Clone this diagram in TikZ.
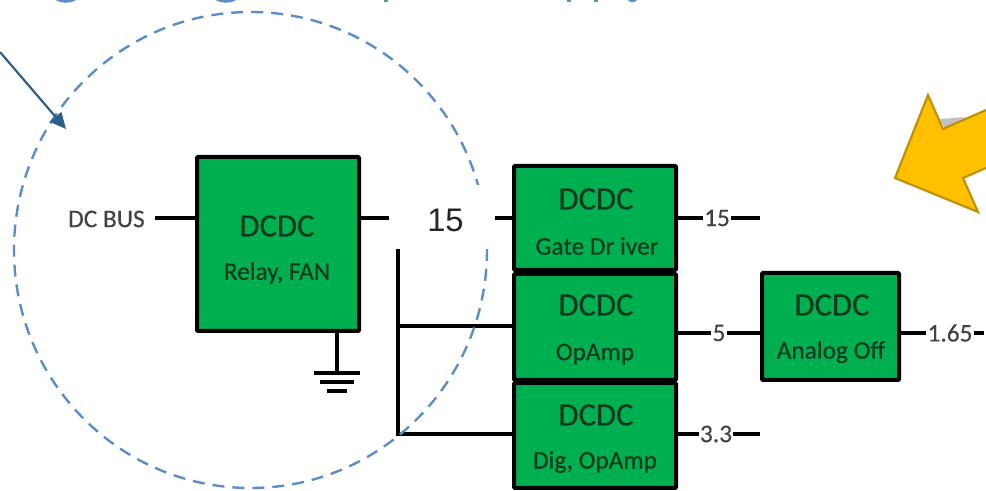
\documentclass[tikz,border=0pt]{standalone}
\usepackage{fontspec}
\setmainfont{Carlito}
\newfontfamily\blockfont[FakeBold=0.35]{Carlito}
\newfontfamily\maskfont{Liberation Sans}
\usetikzlibrary{arrows.meta,shapes.geometric}
\definecolor{dcgreen}{RGB}{0,176,80}
\definecolor{dcink}{RGB}{10,58,30}
\definecolor{lblink}{RGB}{64,66,72}
\definecolor{ringblue}{RGB}{91,141,204}
\definecolor{pointerblue}{RGB}{44,92,138}
\definecolor{warnfill}{RGB}{255,192,0}
\definecolor{warnedge}{RGB}{191,144,0}
\tikzset{
  dcbox/.style={draw=black,fill=dcgreen,line width=3pt,rounded corners=0.8pt,inner sep=0pt},
  dcname/.style={font=\blockfont\fontsize{24.5}{26}\selectfont,text=dcink,inner sep=0pt},
  dcsub/.style={font=\blockfont\fontsize{19}{21}\selectfont,text=dcink,inner sep=0pt},
  railtag/.style={font=\blockfont\fontsize{19}{21}\selectfont,text=lblink,inner sep=0.8pt},
  wire/.style={draw=black,line width=2.7pt},
  gndbar/.style={draw=black,line width=3pt}
}
\begin{document}
\begin{tikzpicture}[x=0.75pt,y=0.75pt,yscale=-1,xscale=1]
\useasboundingbox (0,0) rectangle (986,491);

%Shape: Title remnants
\fill[ringblue] (56,0) .. controls (61,3.5) and (71,3.5) .. (76,0) -- cycle;
\fill[ringblue] (216,0) .. controls (221,3.5) and (231,3.5) .. (236,0) -- cycle;
\fill[ringblue] (384,0) rectangle (388,2.5);
\fill[ringblue] (567,0) rectangle (571,2.5);
\fill[ringblue] (594,0) rectangle (598,2.5);
\fill[ringblue] (628,0) .. controls (630,3) and (635,3) .. (637,0) -- cycle;

%Shape: Blocks
\node [dcbox,minimum width=121.5pt,minimum height=130.5pt] (relay) at (278,244) {};
\node [dcbox,minimum width=121.5pt,minimum height=78pt] (gate) at (595,218) {};
\node [dcbox,minimum width=121.5pt,minimum height=79.5pt] (opamp) at (595,327) {};
\node [dcbox,minimum width=121.5pt,minimum height=78.75pt] (dig) at (595,435.5) {};
\node [dcbox,minimum width=102.75pt,minimum height=80.25pt] (analog) at (830.5,326.5) {};

% Text Node
\node [dcname] (relayname) at (277,226) {DCDC};
\node [dcsub] (relaysub) at (277,273) {Relay, FAN};
\node [dcname] (gatename) at (596,199) {DCDC};
\node [dcsub] (gatesub) at (597,246) {Gate Dr iver};
\node [dcname] (opampname) at (596,305) {DCDC};
\node [dcsub] (opampsub) at (595,354) {OpAmp};
\node [dcname] (digname) at (596,415) {DCDC};
\node [dcsub] (digsub) at (595,462) {Dig, OpAmp};
\node [dcname] (analogname) at (832,305) {DCDC};
\node [dcsub] (analogsub) at (831,352) {Analog Off};
\node [railtag,anchor=east] (bus) at (146,219) {DC BUS};
\node [railtag] (railA) at (717,218) {15};
\node [railtag] (railB) at (719,333) {5};
\node [railtag] (railC) at (716,434) {3.3};
\node [railtag] (railD) at (950,333) {1.65};

\coordinate (busin) at (155,218);
\coordinate (railAend) at (760,218);
\coordinate (railCend) at (760,434);
\coordinate (railDend) at (984,333);
\coordinate (tap) at (398,249);
\coordinate (tapA) at (398,326);
\coordinate (tapB) at (398,434);
\coordinate (gndtop) at (337,373);
\coordinate (gndmid) at (337,382);
\coordinate (gndlow) at (337,391);

%Straight Lines
\draw [wire] (busin) -- (relay.west |- busin);
\draw [wire] (gate.east) -- (railA);
\draw [wire] (railA) -- (railAend);
\draw [wire] (opamp.east |- railB) -- (railB);
\draw [wire] (railB) -- (analog.west |- railB);
\draw [wire] (dig.east |- railC) -- (railC);
\draw [wire] (railC) -- (railCend);
\draw [wire] (analog.east |- railD) -- (railD);
\draw [wire] (railD) -- (railDend);
\draw [wire] (tap) -- (tapB) -- (dig.west |- tapB);
\draw [wire] (tapA) -- (opamp.west |- tapA);
\draw [wire] (relay.south -| gndtop) -- (gndtop);
\draw [gndbar] ([xshift=-17.25pt]gndtop) -- ([xshift=17.25pt]gndtop);
\draw [gndbar] ([xshift=-12.75pt]gndmid) -- ([xshift=12.75pt]gndmid);
\draw [gndbar] ([xshift=-7.5pt]gndlow) -- ([xshift=7.5pt]gndlow);

%Shape: Circle
\node [draw=ringblue,line width=1.8pt,dash pattern=on 9pt off 6pt,ellipse,minimum width=354.75pt,minimum height=357pt,inner sep=0pt] (ring) at (250.5,250) {};

%Wire behind the white patch
\node [fill=white,minimum width=79.5pt,minimum height=48pt,inner sep=0pt] (patch) at (442,217) {};
\node [font=\maskfont\fontsize{24.5}{26}\selectfont,text=black!85,inner sep=0pt] (patchlabel) at (445.5,220) {15};
\draw [wire] (relay.east |- busin) -- (patch.west |- busin);
\draw [wire] (patch.east |- busin) -- (gate.west |- busin);

%Straight Lines
\coordinate (pointerstart) at (0,52);
\coordinate (pointerend) at (66,129);
\draw [draw=pointerblue,line width=1.6pt,-{Triangle[length=12pt,width=11pt]}] (pointerstart) -- (pointerend);

%Shape: Block Arrow
\fill [black!25] (940,119) -- (966,117) -- (945,129) -- cycle;
\draw [fill=warnfill,draw=warnedge,line width=1.6pt,line join=miter] (986,110) -- (943,129) -- (928,95) -- (895,178) -- (978,212) -- (963,178) -- (986,168);

\end{tikzpicture}
\end{document}
